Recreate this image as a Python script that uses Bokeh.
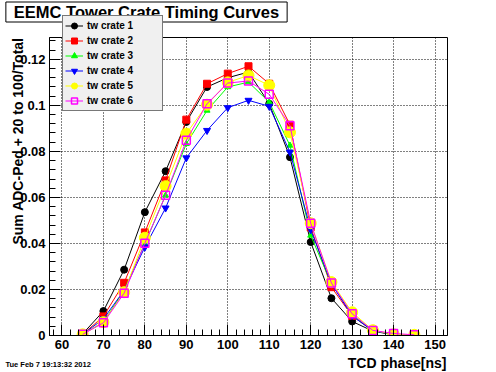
import math
from bokeh.plotting import figure
from bokeh.models import (Range1d, SingleIntervalTicker, CustomJSTickFormatter,
                          Legend, LegendItem, Label)
from bokeh.embed import file_html
from bokeh.resources import INLINE

# ---------------- data ----------------
tcd_phase = [65, 70, 75, 80, 85, 90, 95, 100, 105, 110, 115, 120, 125, 130, 135, 140, 145]
crate1 = [0.0007, 0.0106, 0.0286, 0.0536, 0.0714, 0.0928, 0.1080, 0.1120, 0.1145, 0.1007,
          0.0775, 0.0406, 0.0162, 0.0061, 0.0019, 0.0003, 0.0001]
crate2 = [0.0005, 0.0083, 0.0229, 0.0448, 0.0674, 0.0938, 0.1094, 0.1138, 0.1170, 0.1094,
          0.0916, 0.0470, 0.0210, 0.0085, 0.0020, 0.0005, 0.0002]
crate3 = [0.0005, 0.0058, 0.0196, 0.0399, 0.0609, 0.0833, 0.0978, 0.1080, 0.1101, 0.1014,
          0.0826, 0.0435, 0.0225, 0.0090, 0.0020, 0.0005, 0.0002]
crate4 = [0.0005, 0.0072, 0.0196, 0.0384, 0.0554, 0.0772, 0.0891, 0.0990, 0.1022, 0.0996,
          0.0797, 0.0460, 0.0225, 0.0085, 0.0020, 0.0005, 0.0002]
crate5 = [0.0005, 0.0058, 0.0188, 0.0425, 0.0649, 0.0877, 0.1003, 0.1100, 0.1130, 0.1087,
          0.0883, 0.0488, 0.0232, 0.0101, 0.0023, 0.0005, 0.0003]
crate6 = [0.0005, 0.0055, 0.0184, 0.0401, 0.0609, 0.0848, 0.1007, 0.1097, 0.1106, 0.1048,
          0.0912, 0.0488, 0.0228, 0.0094, 0.0022, 0.0009, 0.0003]
series_names = ["tw crate 1", "tw crate 2", "tw crate 3", "tw crate 4", "tw crate 5", "tw crate 6"]
series_values = [crate1, crate2, crate3, crate4, crate5, crate6]

title_text = "EEMC Tower Crate Timing Curves"
x_title = "TCD phase[ns]"
y_title = "Sum ADC-Ped + 20 to 100/Total"
date_text = "Tue Feb  7 19:13:32 2012"

# ---------------- styles ----------------
styles = [
    dict(color="#000000", marker="circle", size=7, fill="#000000", lw=1),
    dict(color="#ff0000", marker="square", size=7, fill="#ff0000", lw=1),
    dict(color="#00ff00", marker="triangle", size=6, fill="#00ff00", lw=1),
    dict(color="#0000ff", marker="inverted_triangle", size=7, fill="#0000ff", lw=1),
    dict(color="#ffff00", marker="circle", size=11, fill="#ffff00", lw=1),
    dict(color="#ff00ff", marker="square", size=8, fill=None, lw=1.5),
]

FONT = "Liberation Sans"
W, H = 496, 372

# ---------------- main plot ----------------
p = figure(width=W, height=H, output_backend="svg", toolbar_location=None, title=None,
           x_range=Range1d(57, 153), y_range=Range1d(0, 0.1295),
           min_border_left=49, min_border_right=49, min_border_top=37, min_border_bottom=37)
p.styles = {"position": "absolute", "left": "0px", "top": "0px"}
p.background_fill_color = "white"
p.border_fill_color = "white"
p.outline_line_color = "black"
p.outline_line_width = 1

p.xaxis.ticker = SingleIntervalTicker(interval=10, num_minor_ticks=5)
p.yaxis.ticker = SingleIntervalTicker(interval=0.02, num_minor_ticks=5)
p.yaxis.formatter = CustomJSTickFormatter(code="return tick.toFixed(2).replace(/\\.?0+$/, '');")
for ax in (p.xaxis[0], p.yaxis[0]):
    ax.axis_line_color = "black"
    ax.major_tick_line_color = "black"
    ax.minor_tick_line_color = "black"
    ax.major_tick_in = 11
    ax.major_tick_out = 0
    ax.minor_tick_in = 6
    ax.minor_tick_out = 0
    ax.major_label_text_font = FONT
    ax.major_label_text_font_style = "bold"
    ax.major_label_text_font_size = "13px"
    ax.major_label_text_color = "black"
p.xaxis.major_label_standoff = 4
p.yaxis.major_label_standoff = 4

for g in (p.xgrid[0], p.ygrid[0]):
    g.grid_line_color = "black"
    g.grid_line_dash = "1 2"
    g.grid_line_width = 1
p.xgrid.ticker = p.xaxis.ticker
p.ygrid.ticker = p.yaxis.ticker

for ys, st in zip(series_values, styles):
    p.line(tcd_phase, ys, line_color=st["color"], line_width=1)
    p.scatter(tcd_phase, ys, marker=st["marker"], size=st["size"],
              line_color=st["color"], fill_color=st["fill"], line_width=st["lw"])

# ---------------- overlay (pixel coordinates of the whole canvas) ----------------
q = figure(width=W, height=H, output_backend="svg", toolbar_location=None, title=None,
           x_range=Range1d(0, W), y_range=Range1d(H, 0),
           x_axis_location=None, y_axis_location=None,
           min_border_left=0, min_border_right=0, min_border_top=0, min_border_bottom=0)
q.grid.visible = False
q.background_fill_alpha = 0
q.border_fill_alpha = 0
q.outline_line_color = None
q.styles = {"position": "absolute", "left": "0px", "top": "0px"}

# legend entries: same series, hidden renderers (used only for the legend glyphs)
items = []
for name, ys, st in zip(series_names, series_values, styles):
    ln = q.line(tcd_phase, ys, line_color=st["color"], line_width=1, visible=False)
    sc = q.scatter(tcd_phase, ys, marker=st["marker"], size=st["size"], visible=False,
                   line_color=st["color"], fill_color=st["fill"], line_width=st["lw"])
    items.append(LegendItem(label=name, renderers=[ln, sc]))

legend = Legend(items=items, location=(62, 261),
                label_text_font=FONT, label_text_font_style="bold",
                label_text_font_size="10px", label_text_color="black",
                glyph_width=18, glyph_height=15, label_height=15, label_width=73,
                label_standoff=4, spacing=0, padding=2, margin=0,
                border_line_color="black", border_line_width=1,
                background_fill_color="#f0f0f0", background_fill_alpha=1.0)
q.add_layout(legend)

q.add_layout(Label(x=146, y=11.5, text=title_text,
                   text_align="center", text_baseline="middle",
                   text_font=FONT, text_font_style="bold", text_font_size="16.5px",
                   text_color="black", border_line_color="black", border_line_width=1,
                   background_fill_color="white", background_fill_alpha=1.0,
                   padding=(8, 1)))
q.add_layout(Label(x=17, y=37, text=y_title,
                   angle=math.pi / 2, text_align="right", text_baseline="middle",
                   text_font=FONT, text_font_style="bold", text_font_size="14px",
                   text_color="black"))
q.add_layout(Label(x=446, y=362, text=x_title,
                   text_align="right", text_baseline="middle",
                   text_font=FONT, text_font_style="bold", text_font_size="14px",
                   text_color="black"))
q.add_layout(Label(x=5, y=364, text=date_text,
                   text_align="left", text_baseline="middle",
                   text_font=FONT, text_font_style="bold", text_font_size="7.5px",
                   text_color="black"))

open("out.html", "w").write(file_html([p, q], INLINE))
